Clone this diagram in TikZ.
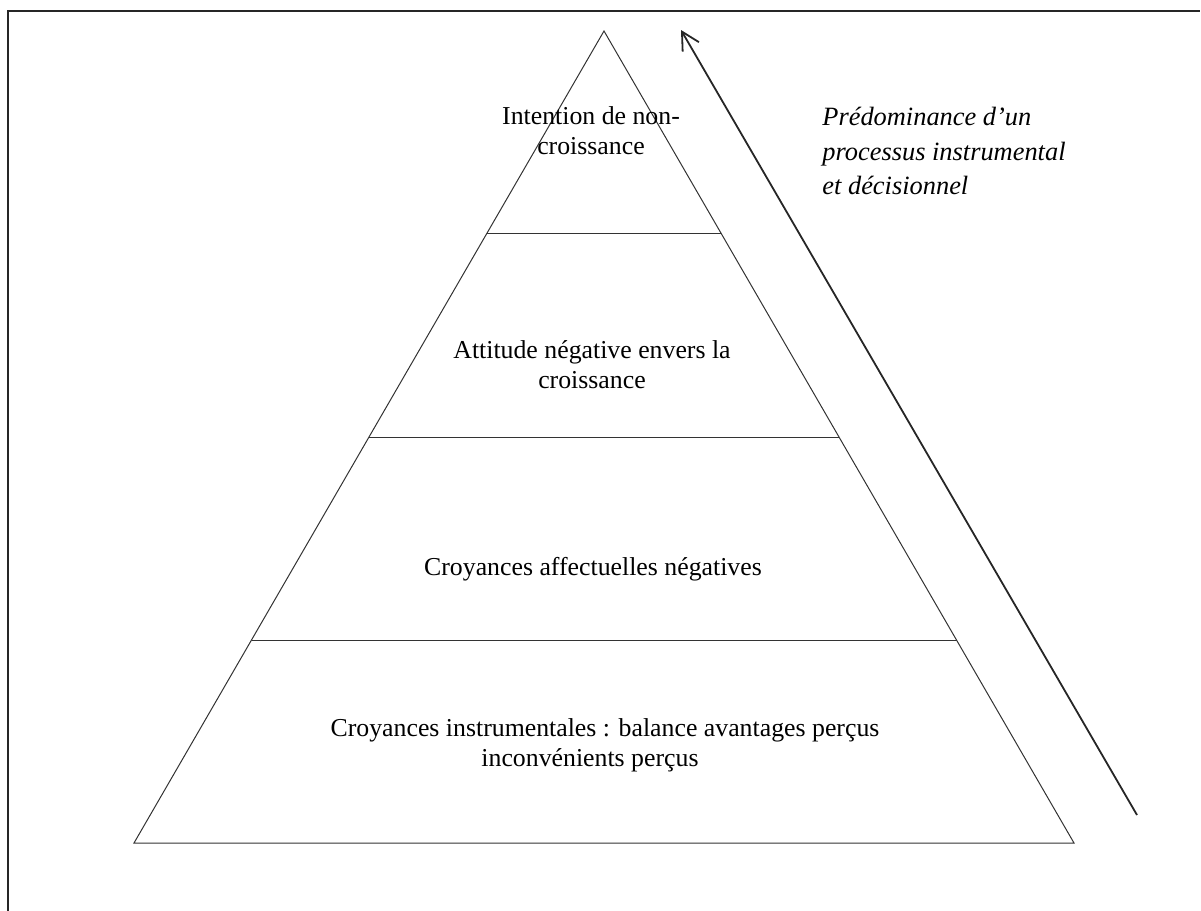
\documentclass[tikz,border=0pt]{standalone}
\usepackage{fontspec}
\setmainfont{Liberation Serif}
\usetikzlibrary{arrows.meta,positioning,calc}
\tikzset{
  frameline/.style={line width=0.9pt,black!85},
  tier/.style={line width=0.5pt,black!80},
  level/.style={align=center,font=\fontsize{12.9}{15}\selectfont,inner sep=0pt},
  note/.style={align=left,anchor=west,font=\fontsize{13.2}{17.3}\selectfont\itshape,inner sep=0pt},
  rise/.style={-{Straight Barb[length=8.8pt,width=9.4pt]},line width=0.9pt,black!85},
}

\begin{document}
\begin{tikzpicture}[x=0.5pt,y=-0.5pt]
  \useasboundingbox (0,0) rectangle (1201,911);
  % frame
  \draw[frameline] (8,911) -- (8,11) -- (1200,11);

  % pyramid
  \coordinate (apex) at (604,31);
  \coordinate (bl) at (134,843);
  \coordinate (br) at (1074,843);
  \draw[tier] (bl) -- (apex) -- (br) -- cycle;
  \foreach \y in {233,437,640}
    \draw[tier] ($(apex)!{(\y-31)/812}!(bl)$) -- ($(apex)!{(\y-31)/812}!(br)$);

  % levels
  \node[level] (intent) at (591,131) {Intention de non-\\croissance};
  \node[level] (attitude) at (592,365) {Attitude négative envers la\\croissance};
  \node[level] (affect) at (593,569) {Croyances affectuelles négatives};
  \node[level] (instr) at (605,745) {Croyances instrumentales : balance avantages perçus\\inconvénients perçus\hspace*{15pt}};

  % arrow
  \coordinate (low) at (1137,815);
  \coordinate (high) at (681,30);
  \draw[rise] (low) -- (high);
  \node[note] (predom) at (822,151) {Prédominance d’un\\processus instrumental\\et décisionnel};
\end{tikzpicture}
\end{document}
